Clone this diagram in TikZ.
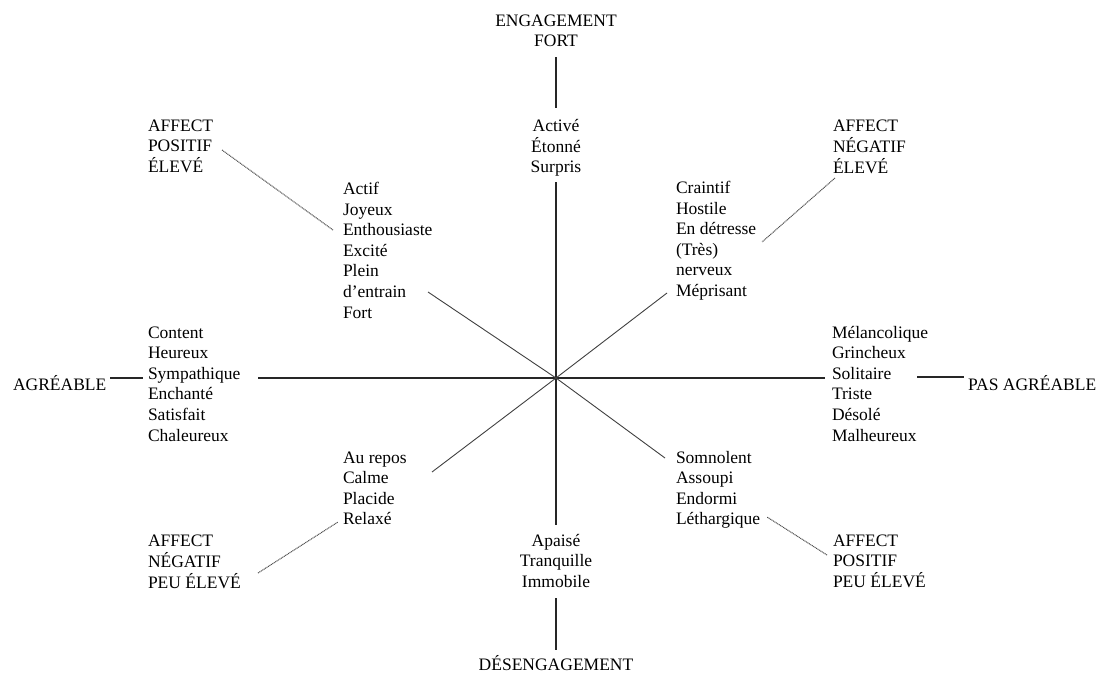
\documentclass[tikz,border=0pt]{standalone}
\usepackage{fontspec}
\setmainfont{Liberation Serif}
\begin{document}
\begin{tikzpicture}[x=1pt,y=-1pt,
  every node/.style={inner sep=0pt,outer sep=0pt,font=\fontsize{17.5}{20.6}\selectfont,text=black},
  axisline/.style={line width=1.4pt,black!85},
  diagline/.style={line width=0.9pt,black!75},
  dotline/.style={line width=1pt,black!70,dash pattern=on 1pt off 0.7pt}]
\useasboundingbox (0,0) rectangle (1113,672);
\newcommand{\colL}[1]{\begin{tabular}[t]{@{}l@{}}#1\end{tabular}}
\newcommand{\colC}[1]{\begin{tabular}[t]{@{}c@{}}#1\end{tabular}}
% labels
\node[anchor=base] (eng) at (556,26) {\colC{ENGAGEMENT\\FORT}};
\node[anchor=base] (act) at (556,131) {\colC{Activé\\Étonné\\Surpris}};
\node[anchor=base] (apa) at (556,546) {\colC{Apaisé\\Tranquille\\Immobile}};
\node[anchor=base] (des) at (556,670) {DÉSENGAGEMENT};
\node[anchor=base west] (agr) at (13,390) {AGRÉABLE};
\node[anchor=base west] (pas) at (968,390) {PAS AGRÉABLE};
\node[anchor=base west] (cont) at (148,338) {\colL{Content\\Heureux\\Sympathique\\Enchanté\\Satisfait\\Chaleureux}};
\node[anchor=base west] (mel) at (832,338) {\colL{Mélancolique\\Grincheux\\Solitaire\\Triste\\Désolé\\Malheureux}};
\node[anchor=base west] (actif) at (343,194.5) {\colL{Actif\\Joyeux\\Enthousiaste\\Excité\\Plein\\d'entrain\\Fort}};
\node[anchor=base west] (crai) at (676,193.5) {\colL{Craintif\\Hostile\\En détresse\\(Très)\\nerveux\\Méprisant}};
\node[anchor=base west] (repos) at (343,463) {\colL{Au repos\\Calme\\Placide\\Relaxé}};
\node[anchor=base west] (somn) at (676,463) {\colL{Somnolent\\Assoupi\\Endormi\\Léthargique}};
\node[anchor=base west] (ape) at (148,131) {\colL{AFFECT\\POSITIF\\ÉLEVÉ}};
\node[anchor=base west] (ane) at (833,131) {\colL{AFFECT\\NÉGATIF\\ÉLEVÉ}};
\node[anchor=base west] (anp) at (148,546) {\colL{AFFECT\\NÉGATIF\\PEU ÉLEVÉ}};
\node[anchor=base west] (app) at (833,546) {\colL{AFFECT\\POSITIF\\PEU ÉLEVÉ}};
% coordinates
\coordinate (c) at (556,378);
\coordinate (v1) at (556,57);  \coordinate (v2) at (556,108);
\coordinate (v3) at (556,182); \coordinate (v4) at (556,525);
\coordinate (v5) at (556,598); \coordinate (v6) at (556,650);
\coordinate (h1) at (110,378); \coordinate (h2) at (143,378);
\coordinate (h3) at (258,378); \coordinate (h4) at (825,378);
\coordinate (h5) at (917,377); \coordinate (h6) at (964,377);
\coordinate (dul) at (428,292); \coordinate (dur) at (667,293);
\coordinate (dll) at (432,472); \coordinate (dlr) at (665,458);
\coordinate (p1a) at (222,150); \coordinate (p1b) at (333,230);
\coordinate (p2a) at (835,178); \coordinate (p2b) at (762,242);
\coordinate (p3a) at (258,573); \coordinate (p3b) at (338,522);
\coordinate (p4a) at (827,555); \coordinate (p4b) at (767,517);
% axes
\draw[axisline] (v1) -- (v2);
\draw[axisline] (v3) -- (v4);
\draw[axisline] (v5) -- (v6);
\draw[axisline] (h1) -- (h2);
\draw[axisline] (h3) -- (h4);
\draw[axisline] (h5) -- (h6);
% diagonals
\draw[diagline] (c) -- (dul);
\draw[diagline] (c) -- (dur);
\draw[diagline] (c) -- (dll);
\draw[diagline] (c) -- (dlr);
% dotted leaders
\draw[dotline] (p1a) -- (p1b);
\draw[dotline] (p2a) -- (p2b);
\draw[dotline] (p3a) -- (p3b);
\draw[dotline] (p4a) -- (p4b);
\end{tikzpicture}
\end{document}
